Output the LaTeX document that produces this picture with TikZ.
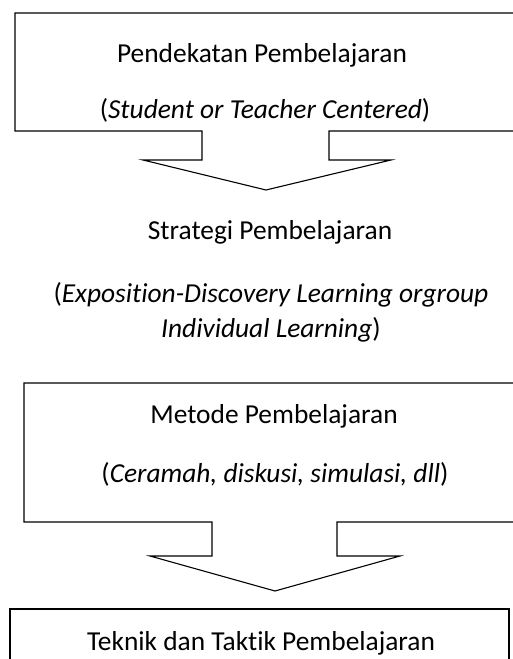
\documentclass[tikz,border=0pt]{standalone}
\usepackage{fontspec}
\setmainfont{Carlito}[Ligatures={NoCommon,NoRare,NoContextual}]
\tikzset{
  kotak/.style={draw, line width=1.1pt, line join=miter},
  teks/.style={anchor=base, inner sep=0pt, font=\fontsize{27.4}{32}\selectfont}
}
\begin{document}
\begin{tikzpicture}[x=1pt, y=-1pt]
    \useasboundingbox (0,0) rectangle (513,659);
    \clip (0,0) rectangle (513,659);
    % Kotak 1 dengan panah ke bawah
    \draw[kotak] (15,13) -- (540,13) -- (540,131) -- (329,131) -- (329,160) -- (391,160)
        -- (266,190) -- (143,160) -- (202,160) -- (202,131) -- (15,131) -- cycle;
    \node[teks] (pendekatan) at (262,62) {Pendekatan Pembelajaran};
    \node[teks] (centered) at (265,118) {(\textit{Student or Teacher Centered})};
    % Strategi (tanpa kotak)
    \node[teks] (strategi) at (270,239) {Strategi Pembelajaran};
    \node[teks] (exposition) at (271,302) {(\textit{Exposition-Discovery Learning orgroup}};
    \node[teks] (individual) at (271,337) {\textit{Individual Learning})};
    % Kotak 2 dengan panah ke bawah
    \draw[kotak] (24,383) -- (540,383) -- (540,522) -- (337,522) -- (337,556) -- (400,556)
        -- (275,591) -- (150,556) -- (212,556) -- (212,522) -- (24,522) -- cycle;
    \node[teks] (metode) at (274,423) {Metode Pembelajaran};
    \node[teks] (ceramah) at (275,482) {(\textit{Ceramah, diskusi, simulasi, dll})};
    % Kotak 3
    \draw[kotak, line width=1.8pt] (10,680) -- (10,609) -- (509,609) -- (509,680);
    \node[teks] (teknik) at (261,650) {Teknik dan Taktik Pembelajaran};
\end{tikzpicture}
\end{document}
